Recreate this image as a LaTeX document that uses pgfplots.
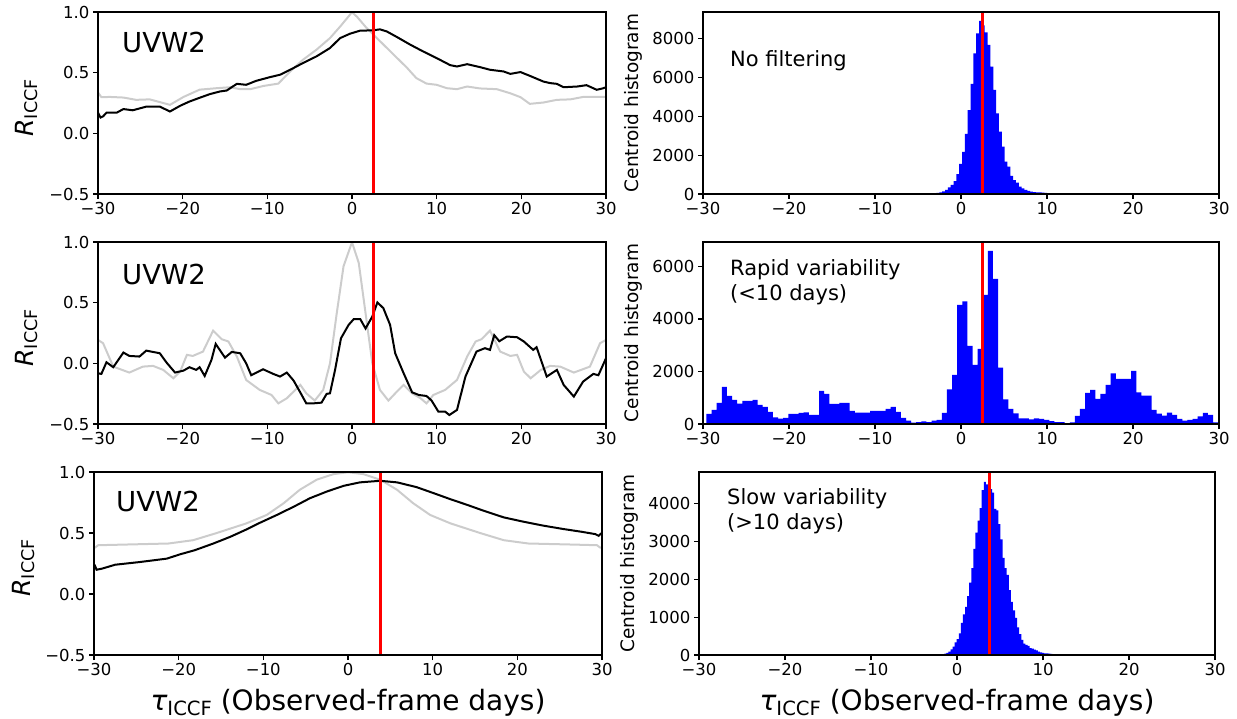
\documentclass[border=0pt]{standalone}
\usepackage{fontspec}
\setmainfont{DejaVu Sans}[ItalicFont={DejaVu Sans Oblique}]
\usepackage{pgfplots}
\pgfplotsset{compat=1.18}
\definecolor{lgray}{RGB}{204,204,204}
\pgfplotsset{
  baseax/.style={scale only axis, anchor=north west,
    axis line style={black,line width=1.1pt},
    tick style={black,line width=1.1pt},
    major tick length=5pt, tick align=outside, tick pos=left,
    xmin=-30,xmax=30, xtick={-30,-20,-10,0,10,20,30},
    xticklabels={−30,−20,−10,0,10,20,30},
    ticklabel style={font=\fontsize{16.5}{19}\selectfont},
    axis on top},
  iccfax/.style={baseax, width=508pt, height=182pt, ymin=-0.5, ymax=1,
    ytick={-0.5,0,0.5,1}, yticklabels={−0.5,0.0,0.5,1.0}},
  histax/.style={baseax, width=516pt, height=182pt, ymin=0},
  grayline/.style={lgray, line width=2pt},
  blackline/.style={black, line width=2pt},
  redline/.style={red, line width=3pt},
  histfill/.style={fill=blue, draw=none, const plot},
}
\begin{document}
\begin{tikzpicture}
\useasboundingbox (0pt,0pt) rectangle (1237pt,-718pt);

% ---------- top left ----------
\begin{axis}[iccfax, at={(98pt,-12pt)}]
\addplot[grayline] coordinates {(-30,0.337) (-29.6,0.298) (-28.6,0.30) (-27,0.295) (-25.5,0.276) (-23.9,0.28) (-21.5,0.235) (-19.9,0.30) (-18,0.36) (-16,0.372) (-14.4,0.38) (-13.2,0.364) (-12,0.364) (-10.5,0.39) (-8.7,0.41) (-7.3,0.51) (-5.8,0.606) (-4.2,0.689) (-2.6,0.785) (-1.4,0.88) (0,0.998) (0.6,0.96) (1.7,0.87) (3.3,0.76) (4.9,0.65) (6.5,0.54) (7.6,0.455) (8.8,0.41) (10,0.40) (11.2,0.372) (12.4,0.364) (13.6,0.386) (15.1,0.37) (17.1,0.364) (18.7,0.33) (19.9,0.298) (21,0.243) (22.6,0.254) (24.2,0.276) (25.8,0.28) (27.3,0.30) (28.9,0.30) (30,0.30)};
\addplot[blackline] coordinates {(-30,0.17) (-29.7,0.13) (-29.4,0.14) (-29,0.17) (-27.8,0.17) (-27,0.2) (-25.9,0.19) (-24.3,0.22) (-22.7,0.22) (-21.5,0.18) (-20.3,0.227) (-19.2,0.262) (-18,0.293) (-16.8,0.323) (-15.6,0.345) (-14.8,0.353) (-13.6,0.408) (-12.5,0.40) (-11.3,0.433) (-9.7,0.463) (-8.5,0.483) (-7.3,0.524) (-5.8,0.579) (-4.2,0.634) (-2.6,0.703) (-1.4,0.785) (-0.24,0.821) (0.94,0.846) (2.5,0.849) (3.3,0.857) (4.1,0.84) (5.3,0.794) (6.9,0.73) (8.4,0.675) (10,0.62) (11.6,0.562) (12.4,0.551) (13.6,0.57) (15.1,0.546) (16.3,0.524) (17.9,0.51) (18.7,0.49) (19.9,0.505) (21,0.474) (22.6,0.427) (23.4,0.414) (24.2,0.408) (25,0.38) (26.6,0.386) (27.7,0.397) (28.9,0.359) (29.6,0.37) (30,0.38)};
\addplot[redline] coordinates {(2.5,-0.5) (2.5,1)};
\end{axis}

% ---------- top right ----------
\begin{axis}[histax, at={(703pt,-12pt)}, ymax=9390,
  ytick={0,2000,4000,6000,8000}, yticklabels={0,2000,4000,6000,8000}]
\addplot[histfill] coordinates {(-3.18,40) (-2.85,60) (-2.52,90) (-2.19,130) (-1.86,210) (-1.53,340) (-1.20,470) (-0.87,670) (-0.54,1030) (-0.21,1550) (0.12,2170) (0.45,3100) (0.78,4330) (1.11,5680) (1.44,7260) (1.77,8290) (2.10,8930) (2.43,8700) (2.76,8340) (3.09,7690) (3.42,6570) (3.75,5370) (4.08,4160) (4.41,3220) (4.74,2440) (5.07,1670) (5.40,1410) (5.73,930) (6.06,720) (6.39,590) (6.72,380) (7.05,290) (7.38,210) (7.71,155) (8.04,120) (8.37,100) (8.70,90) (9.03,80) (9.36,70) (9.69,60) (10.02,40) (10.35,0)} \closedcycle;
\addplot[redline] coordinates {(2.5,0) (2.5,9390)};
\end{axis}

% ---------- middle left ----------
\begin{axis}[iccfax, at={(98pt,-242pt)}]
\addplot[grayline] coordinates {(-30,0.193) (-29.4,0.166) (-28.2,-0.027) (-26.3,-0.076) (-24.7,-0.027) (-23.5,-0.021) (-22.3,-0.054) (-21.1,-0.123) (-20.3,-0.068) (-19.5,0.07) (-18.8,0.061) (-17.6,0.097) (-16.4,0.27) (-15.4,0.199) (-14.6,0.18) (-13.6,0.056) (-12.5,-0.137) (-10.9,-0.219) (-9.5,-0.261) (-8.7,-0.33) (-7.7,-0.288) (-6.9,-0.233) (-6.1,-0.178) (-5.4,-0.247) (-4.4,-0.307) (-3.4,-0.219) (-2.6,0.0) (-1.8,0.414) (-1.0,0.8) (0.0,0.998) (0.8,0.827) (1.6,0.414) (2.4,0.0) (3.3,-0.219) (4.3,-0.307) (5.3,-0.233) (6.1,-0.178) (7.1,-0.247) (8.1,-0.288) (8.8,-0.33) (9.6,-0.261) (11.0,-0.219) (12.4,-0.137) (13.6,0.056) (14.6,0.18) (15.3,0.199) (16.3,0.27) (17.5,0.097) (18.7,0.061) (19.5,0.07) (20.3,-0.068) (21.1,-0.123) (22.3,-0.054) (23.4,-0.021) (24.6,-0.027) (26.2,-0.076) (28.1,-0.027) (29.3,0.166) (30,0.193)};
\addplot[blackline] coordinates {(-30,-0.082) (-29.6,-0.087) (-29.0,0.009) (-28.2,-0.032) (-27.0,0.089) (-26.3,0.061) (-25.1,0.056) (-24.3,0.105) (-22.7,0.083) (-21.9,0.006) (-20.9,-0.076) (-19.9,-0.06) (-19.2,-0.032) (-18.4,-0.054) (-18.0,-0.032) (-17.4,-0.104) (-16.6,0.028) (-16.1,0.16) (-15.0,0.047) (-14.2,0.094) (-13.2,0.083) (-12.5,0.0) (-11.9,-0.098) (-10.5,-0.049) (-9.3,-0.087) (-8.5,-0.109) (-7.7,-0.076) (-6.9,-0.142) (-6.1,-0.241) (-5.4,-0.33) (-4.6,-0.33) (-3.6,-0.324) (-3.0,-0.252) (-2.6,-0.247) (-2.0,-0.054) (-1.3,0.207) (-0.4,0.317) (0.2,0.364) (0.98,0.364) (1.6,0.287) (2.4,0.386) (3.0,0.502) (3.7,0.455) (4.5,0.317) (5.1,0.083) (6.1,-0.082) (7.1,-0.239) (7.9,-0.261) (8.8,-0.269) (9.4,-0.307) (10.2,-0.398) (11.0,-0.398) (11.5,-0.426) (12.4,-0.384) (13.4,-0.109) (14.7,0.097) (15.7,0.125) (16.3,0.111) (16.8,0.232) (17.4,0.182) (18.3,0.221) (19.5,0.215) (20.3,0.18) (21.4,0.111) (21.8,0.133) (23.0,-0.109) (24.2,-0.054) (25.0,-0.178) (26.2,-0.274) (27.3,-0.15) (28.5,-0.087) (29.1,-0.098) (30.0,0.042)};
\addplot[redline] coordinates {(2.5,-0.5) (2.5,1)};
\end{axis}

% ---------- middle right ----------
\begin{axis}[histax, at={(703pt,-242pt)}, ymax=6930,
  ytick={0,2000,4000,6000}, yticklabels={0,2000,4000,6000}]
\addplot[histfill] coordinates {(-29.600,381) (-29.005,534) (-28.410,801) (-27.815,1411) (-27.220,1068) (-26.625,915) (-26.030,775) (-25.435,877) (-24.840,877) (-24.245,915) (-23.650,724) (-23.055,648) (-22.460,458) (-21.865,254) (-21.270,203) (-20.675,229) (-20.080,381) (-19.485,381) (-18.890,419) (-18.295,445) (-17.700,343) (-17.105,343) (-16.510,1258) (-15.915,1144) (-15.320,763) (-14.725,763) (-14.130,801) (-13.535,801) (-12.940,496) (-12.345,432) (-11.750,432) (-11.155,432) (-10.560,496) (-9.965,496) (-9.370,496) (-8.775,572) (-8.180,648) (-7.585,458) (-6.990,229) (-6.395,127) (-5.800,51) (-5.205,76) (-4.610,102) (-4.015,76) (-3.420,127) (-2.825,153) (-2.230,419) (-1.635,1322) (-1.040,1868) (-0.445,4537) (0.150,4665) (0.745,2974) (1.340,2250) (1.935,2860) (2.530,4919) (3.125,6597) (3.720,5529) (4.315,2148) (4.910,941) (5.505,572) (6.100,407) (6.695,216) (7.290,216) (7.885,178) (8.480,216) (9.075,191) (9.670,153) (10.265,114) (10.860,76) (11.455,76) (12.050,38) (12.645,64) (13.240,305) (13.835,572) (14.430,1182) (15.025,1296) (15.620,953) (16.215,1144) (16.810,1487) (17.405,1932) (18.000,1716) (18.595,1716) (19.190,1716) (19.785,2021) (20.380,1207) (20.975,1080) (21.570,1080) (22.165,534) (22.760,394) (23.355,318) (23.950,432) (24.545,343) (25.140,191) (25.735,127) (26.330,153) (26.925,191) (27.520,292) (28.115,419) (28.710,343) (29.305,64) (29.900,0)} \closedcycle;
\addplot[redline] coordinates {(2.5,0) (2.5,6930)};
\end{axis}

% ---------- bottom left ----------
\begin{axis}[iccfax, at={(94pt,-472pt)}, height=183pt]
\addplot[grayline] coordinates {(-30,0.38) (-29.9,0.38) (-29.5,0.40) (-26.5,0.405) (-21.2,0.414) (-18.3,0.441) (-15.5,0.50) (-12,0.579) (-9.6,0.648) (-7.6,0.744) (-5.7,0.854) (-3.7,0.937) (-1.7,0.983) (0,0.998) (1.8,0.983) (3.8,0.937) (5.8,0.854) (7.7,0.744) (9.7,0.648) (12.1,0.579) (15.6,0.50) (18.4,0.441) (21.3,0.414) (26.7,0.405) (29.4,0.40) (29.8,0.38) (30,0.38)};
\addplot[blackline] coordinates {(-30,0.24) (-29.9,0.235) (-29.7,0.199) (-29.1,0.207) (-27.5,0.24) (-24.6,0.262) (-21.4,0.29) (-19.8,0.326) (-18.1,0.359) (-15.9,0.414) (-13.9,0.469) (-12.0,0.529) (-10.4,0.584) (-8.4,0.648) (-6.4,0.716) (-4.5,0.785) (-2.5,0.84) (-0.5,0.887) (1.4,0.915) (3.8,0.928) (5.8,0.915) (8.1,0.876) (10.1,0.827) (12.1,0.777) (14.1,0.73) (16.0,0.683) (18.4,0.628) (20.7,0.593) (23.1,0.56) (25.5,0.532) (27.6,0.51) (29.2,0.491) (29.6,0.477) (30,0.502)};
\addplot[redline] coordinates {(3.8,-0.5) (3.8,1)};
\end{axis}

% ---------- bottom right ----------
\begin{axis}[histax, at={(699pt,-472pt)}, height=183pt, ymax=4840,
  ytick={0,1000,2000,3000,4000}, yticklabels={0,1000,2000,3000,4000}]
\addplot[histfill] coordinates {(-4.870,3) (-4.628,0) (-4.386,4) (-4.144,2) (-3.902,0) (-3.660,5) (-3.418,6) (-3.176,4) (-2.934,8) (-2.692,7) (-2.450,10) (-2.208,14) (-1.966,18) (-1.724,25) (-1.482,36) (-1.240,54) (-0.998,90) (-0.756,152) (-0.514,224) (-0.272,331) (-0.030,421) (0.212,573) (0.454,850) (0.696,1074) (0.938,1271) (1.180,1557) (1.422,1915) (1.664,2300) (1.906,2810) (2.148,3240) (2.390,3553) (2.632,3884) (2.874,4359) (3.116,4582) (3.358,4511) (3.600,4480) (3.842,4386) (4.084,4296) (4.326,3866) (4.568,3822) (4.810,3464) (5.052,3061) (5.294,2569) (5.536,2300) (5.778,2121) (6.020,1718) (6.262,1405) (6.504,1181) (6.746,985) (6.988,734) (7.230,555) (7.472,403) (7.714,304) (7.956,269) (8.198,242) (8.440,179) (8.682,170) (8.924,143) (9.166,125) (9.408,90) (9.650,72) (9.892,54) (10.134,45) (10.376,40) (10.618,36) (10.860,32) (11.102,25) (11.344,20) (11.586,18) (11.828,14) (12.070,12) (12.312,9) (12.554,8) (12.796,6) (13.038,5) (13.280,4) (13.522,6) (13.764,3) (14.006,2) (14.248,4) (14.490,0) (14.732,3) (14.974,2) (15.216,0) (15.458,2) (15.700,0) (15.942,0)} \closedcycle;
\addplot[redline] coordinates {(3.8,0) (3.8,4840)};
\end{axis}

% ---------- texts ----------
\node[anchor=base west, inner sep=0, font=\fontsize{27.5}{30}\selectfont] at (122pt,-52pt) {UVW2};
\node[anchor=base west, inner sep=0, font=\fontsize{27.5}{30}\selectfont] at (122pt,-284pt) {UVW2};
\node[anchor=base west, inner sep=0, font=\fontsize{27.5}{30}\selectfont] at (116pt,-511.5pt) {UVW2};

\node[anchor=base west, inner sep=0, font=\fontsize{21}{24}\selectfont] at (730pt,-66.7pt) {No filtering};
\node[anchor=base west, inner sep=0, font=\fontsize{21}{24}\selectfont] at (730pt,-275pt) {Rapid variability};
\node[anchor=base west, inner sep=0, font=\fontsize{21}{24}\selectfont] at (730pt,-300pt) {(<10 days)};
\node[anchor=base west, inner sep=0, font=\fontsize{21}{24}\selectfont] at (727pt,-504pt) {Slow variability};
\node[anchor=base west, inner sep=0, font=\fontsize{21}{24}\selectfont] at (727pt,-529pt) {(>10 days)};

\node[rotate=90, anchor=base, inner sep=0, font=\fontsize{25}{28}\selectfont] at (33pt,-108pt) {\textit{R}\raisebox{-0.18em}{\fontsize{17.5}{20}\selectfont ICCF}};
\node[rotate=90, anchor=base, inner sep=0, font=\fontsize{25}{28}\selectfont] at (33pt,-338pt) {\textit{R}\raisebox{-0.18em}{\fontsize{17.5}{20}\selectfont ICCF}};
\node[rotate=90, anchor=base, inner sep=0, font=\fontsize{25}{28}\selectfont] at (30pt,-568pt) {\textit{R}\raisebox{-0.18em}{\fontsize{17.5}{20}\selectfont ICCF}};

\node[rotate=90, anchor=base, inner sep=0, font=\fontsize{18.5}{21}\selectfont] at (638pt,-103pt) {Centroid histogram};
\node[rotate=90, anchor=base, inner sep=0, font=\fontsize{18.5}{21}\selectfont] at (638pt,-333pt) {Centroid histogram};
\node[rotate=90, anchor=base, inner sep=0, font=\fontsize{18.5}{21}\selectfont] at (634pt,-563.5pt) {Centroid histogram};

\node[anchor=base, inner sep=0, font=\fontsize{28}{32}\selectfont] at (348pt,-710pt) {\textit{τ}\raisebox{-0.18em}{\fontsize{19.6}{22}\selectfont ICCF} (Observed-frame days)};
\node[anchor=base, inner sep=0, font=\fontsize{28}{32}\selectfont] at (957pt,-710pt) {\textit{τ}\raisebox{-0.18em}{\fontsize{19.6}{22}\selectfont ICCF} (Observed-frame days)};
\end{tikzpicture}
\end{document}
